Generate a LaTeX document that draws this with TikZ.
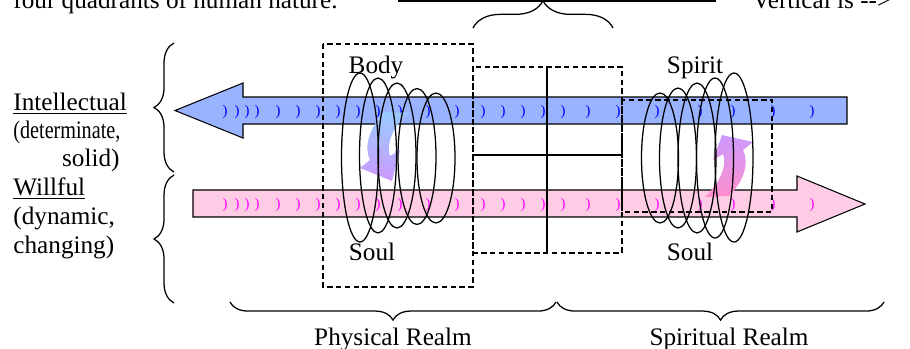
\documentclass[tikz,border=0pt]{standalone}
\usepackage{fontspec}
\setmainfont{Liberation Serif}
\usepackage{graphicx}
\usetikzlibrary{decorations.pathreplacing}
\definecolor{intellblue}{HTML}{99B3FF}
\definecolor{willpink}{HTML}{FFCCE6}
\definecolor{tickblue}{HTML}{0000FF}
\definecolor{tickpink}{HTML}{FF00FF}
\definecolor{turnblue}{HTML}{99CCFF}
\definecolor{turnviolet}{HTML}{CC99FF}
\definecolor{turnpink}{HTML}{FF8FCC}

\begin{document}
\begin{tikzpicture}[
  x=0.476pt, y=-0.476pt,
  every node/.style={font=\fontsize{12}{13.8}\selectfont, inner sep=0pt},
  bandarrow/.style={draw=black, line width=0.5pt},
  tick/.style={font=\fontsize{7}{7}\selectfont},
  coil/.style={draw=black, line width=0.6pt},
  realmbox/.style={draw=black, dash pattern=on 2.6pt off 1.6pt, line width=0.6pt},
  bracket/.style={decorate, decoration={brace, amplitude=#1}, line width=0.6pt},
  lefttext/.style={anchor=base west}
]
\useasboundingbox (0,0) rectangle (910,348);

% Top, cut off
\node[lefttext] (quad) at (13,8) {four quadrants of human nature.};
\node[lefttext] (vert) at (752,8) {Vertical is -{}-{}>};
\draw[line width=0.6pt] (398,1) -- (716,1);
\draw[bracket=13pt] (473,28) -- (613,28);

% Left side labels
\node[lefttext] (intell) at (13,110) {\underline{Intellectual}};
\node[lefttext] (determ) at (13,138) {\scalebox{0.8}[1]{(determinate,}};
\node[anchor=base east] (solid) at (120,166) {solid)};
\node[lefttext] (willful) at (13,195) {\underline{Willful}};
\node[lefttext] (dynamic) at (13,224) {(dynamic,};
\node[lefttext] (changing) at (13,253) {changing)};
\draw[bracket=9.5pt] (174,172) -- (174,43);
\draw[bracket=9.5pt] (174,303) -- (174,175);

% Horizontal arrows
\draw[bandarrow, fill=intellblue] (847,97) -- (243,97) -- (243,83) -- (175,110.5)
  -- (243,138) -- (243,124) -- (847,124) -- cycle;
\draw[bandarrow, fill=willpink] (193,190) -- (797,190) -- (797,176) -- (865,204)
  -- (797,232) -- (797,217) -- (193,217) -- cycle;
\foreach \mx in {225,237,247,257,278,298,318,338,358,378,400,428,457,483,503,
                 523,543,563,588,618,657,700,733,773,812} {
  \node[tick, text=tickblue] (tb\mx) at (\mx,112) {)};
  \node[tick, text=tickpink] (tp\mx) at (\mx,205) {)};
}

% Turning arrows
\shade[top color=turnblue, bottom color=turnviolet]
  (384,112) .. controls (368,130) and (364,148) .. (370,160) -- (360,168)
  -- (392,181) -- (400,150) -- (390,156) .. controls (386,145) and (392,128) .. (408,113) -- cycle;
\shade[top color=turnviolet, bottom color=turnpink]
  (729,196) .. controls (745,180) and (749,162) .. (743,150) -- (753,142)
  -- (722,135) -- (713,160) -- (723,154) .. controls (727,165) and (721,182) .. (705,197) -- cycle;

% Coils
\draw[coil] (360,157.5) ellipse [x radius=18.5, y radius=84.5];
\draw[coil] (378,155.5) ellipse [x radius=18.5, y radius=77.5];
\draw[coil] (397,155.5) ellipse [x radius=19, y radius=72.5];
\draw[coil] (417,156.5) ellipse [x radius=19, y radius=68];
\draw[coil] (436,158) ellipse [x radius=19, y radius=65];
\draw[coil] (660,158) ellipse [x radius=18.5, y radius=65];
\draw[coil] (678,158) ellipse [x radius=18.5, y radius=70];
\draw[coil] (697,158) ellipse [x radius=19, y radius=75];
\draw[coil] (715,158) ellipse [x radius=18.5, y radius=80];
\draw[coil] (734,157.5) ellipse [x radius=19, y radius=84.5];

% Dashed realms
\draw[realmbox] (323,44) rectangle (473,287);
\draw[realmbox] (473,67) rectangle (622,253);
\draw[realmbox] (622,100) rectangle (772,212);
\draw[line width=1.4pt] (547,67) -- (547,253);
\draw[line width=1pt] (473,155) -- (622,155);

% Coil labels
\node[anchor=base] (body) at (376,73) {Body};
\node[anchor=base] (soulL) at (372,260) {Soul};
\node[anchor=base] (spirit) at (695,73) {Spirit};
\node[anchor=base] (soulR) at (690,260) {Soul};

% Bottom braces
\draw[bracket=8.6pt] (556,302) -- (230,302);
\draw[bracket=8.6pt] (884,302) -- (557,302);
\node[anchor=base] (phys) at (393,345) {Physical Realm};
\node[anchor=base] (spir) at (729,345) {Spiritual Realm};

\end{tikzpicture}
\end{document}
